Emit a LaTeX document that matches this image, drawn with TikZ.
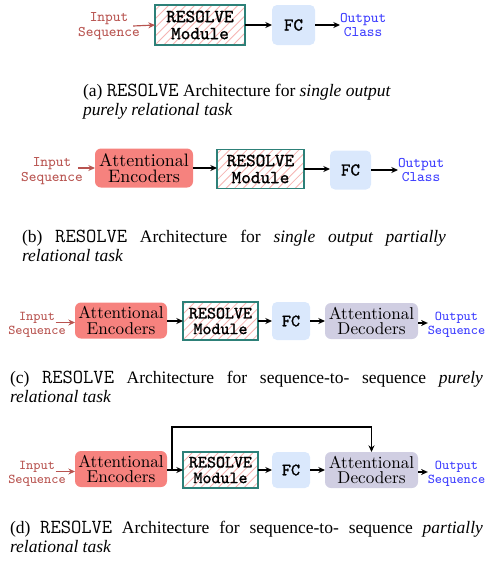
\documentclass[tikz,border=0pt]{standalone}
\usepackage{fontspec}
\newfontfamily\capfont{Liberation Serif}
\newfontfamily\capmono[Scale=1.14]{Latin Modern Mono}
\newfontfamily\boxmono[FakeBold=1.3]{Latin Modern Mono}
\usetikzlibrary{arrows.meta}

\definecolor{inred}{HTML}{B85450}
\definecolor{outblue}{HTML}{3C3CFF}
\definecolor{encfill}{HTML}{F6827E}
\definecolor{fcfill}{HTML}{DAE8FC}
\definecolor{decfill}{HTML}{D0CEE2}
\definecolor{resteal}{HTML}{2D8078}
\definecolor{reshatch}{HTML}{F6B4B2}

\tikzset{
  sz/.style 2 args={minimum width=#1*0.6pt, minimum height=#2*0.6pt},
  every node/.style={inner sep=0pt, outer sep=0pt},
  arr/.style={-{Stealth[length=4pt,width=3.6pt]}, line width=0.7pt, black},
  inarr/.style={arr, inred},
  intext/.style={align=center, text=inred, font=\fontsize{8.8}{8.6}\selectfont\ttfamily},
  outtext/.style={align=center, text=outblue, font=\fontsize{8.8}{8.6}\selectfont\ttfamily},
  hatchlines/.style={path picture={
      \foreach \i in {-14,...,14}
        \draw[reshatch, line width=0.5pt]
          ([xshift=\i*5.2pt]path picture bounding box.south west) -- ++(70pt,70pt);}},
  resbox/.style={draw=resteal, line width=0.9pt, fill=white, hatchlines,
    align=center, font=\fontsize{11}{10.2}\selectfont\boxmono},
  fcbox/.style={fill=fcfill, rounded corners=3pt, font=\fontsize{10.8}{11}\selectfont\boxmono},
  encbox/.style={fill=encfill, rounded corners=3.6pt, align=center, font=\fontsize{10.8}{10}\selectfont},
  decbox/.style={fill=decfill, rounded corners=3.6pt, align=center, font=\fontsize{10.5}{9.6}\selectfont},
  capbox/.style={anchor=base west, font=\capfont\fontsize{10.5}{11.4}\selectfont},
}

\begin{document}
\begin{tikzpicture}[x=0.6pt, y=-0.6pt]
\useasboundingbox (0,0) rectangle (487,565);

% (a) single output, purely relational
\node[intext] (inA) at (109,26) {Input\\Sequence};
\node[resbox, sz={90}{40}] (resA) at (200,25) {RESOLVE\\Module};
\node[fcbox, sz={43}{40}] (fcA) at (293.5,25) {FC};
\node[outtext, anchor=west] (outA) at (340,25) {Output\\Class};
\draw[inarr] ([xshift=-4pt]inA.east) -- (resA.west);
\draw[arr] (resA) -- (fcA);
\draw[arr] (fcA) -- (outA);
\node[capbox] (capA) at (83,96) {\parbox[t]{190pt}{(a) {\capmono RESOLVE} Architecture for \textit{single output}\\
\textit{purely relational task}}};

% (b) single output, partially relational
\node[intext] (inB) at (52,171) {Input\\Sequence};
\node[encbox, sz={98}{39}] (encB) at (144,168) {Attentional\\Encoders};
\node[resbox, sz={87}{39}] (resB) at (260.5,169) {RESOLVE\\Module};
\node[fcbox, sz={41}{39}] (fcB) at (350.5,170) {FC};
\node[outtext, anchor=west] (outB) at (398,170) {Output\\Class};
\draw[inarr] ([xshift=-3pt]inB.east |- encB.west) -- (encB.west);
\draw[arr] (encB.east) -- (encB.east -| resB.west);
\draw[arr] (resB.east) -- (resB.east -| fcB.west);
\draw[arr] (fcB) -- (fcB -| outB.west);
\node[capbox] (capB) at (22,242) {\parbox[t]{254.4pt}{(b) {\capmono RESOLVE} Architecture for \textit{single output partially}\linebreak
\textit{relational task}}};

% (c) sequence-to-sequence, purely relational
\node[intext, font=\fontsize{8.1}{8.4}\selectfont\ttfamily] (inC) at (37,325) {Input\\Sequence};
\node[encbox, sz={92}{36}, font=\fontsize{10.3}{9.4}\selectfont] (encC) at (121,320.5) {Attentional\\Encoders};
\node[resbox, sz={75}{38}, font=\fontsize{10.3}{9.4}\selectfont\boxmono] (resC) at (220.5,321) {RESOLVE\\Module};
\node[fcbox, sz={38}{38}, font=\fontsize{10.3}{10}\selectfont\boxmono] (fcC) at (291,321) {FC};
\node[decbox, sz={93}{36}, font=\fontsize{10.3}{9.4}\selectfont] (decC) at (371.5,321) {Attentional\\Decoders};
\node[outtext, font=\fontsize{8.1}{8.4}\selectfont\ttfamily] (outC) at (456.5,325) {Output\\Sequence};
\draw[inarr] ([xshift=-6pt,yshift=1.5pt]inC.east) -- ([yshift=1.5pt]inC.east -| encC.west);
\draw[arr] (encC.east |- resC.west) -- (resC.west);
\draw[arr] (resC) -- (fcC);
\draw[arr] (fcC) -- (decC);
\draw[arr] ([yshift=-1.2pt]decC.east) -- ([yshift=-1.2pt]decC.east -| outC.west);
\node[capbox] (capC) at (10,383) {\parbox[t]{283.8pt}{(c) {\capmono RESOLVE} Architecture for sequence-to- sequence \textit{purely}\linebreak
\textit{relational task}}};

% (d) sequence-to-sequence, partially relational
\node[intext, font=\fontsize{8.1}{8.4}\selectfont\ttfamily] (inD) at (37,474) {Input\\Sequence};
\node[encbox, sz={92}{36}, font=\fontsize{10.3}{9.4}\selectfont] (encD) at (121,469) {Attentional\\Encoders};
\node[resbox, sz={75}{36}, font=\fontsize{10.3}{9.4}\selectfont\boxmono] (resD) at (220.5,470) {RESOLVE\\Module};
\node[fcbox, sz={38}{36}, font=\fontsize{10.3}{10}\selectfont\boxmono] (fcD) at (291,470) {FC};
\node[decbox, sz={93}{36}, font=\fontsize{10.3}{9.4}\selectfont] (decD) at (371.5,470) {Attentional\\Decoders};
\node[outtext, font=\fontsize{8.1}{8.4}\selectfont\ttfamily] (outD) at (456.5,474) {Output\\Sequence};
\coordinate (skipUp) at (172,427);
\draw[inarr] ([xshift=-6pt,yshift=1.5pt]inD.east) -- ([yshift=1.5pt]inD.east -| encD.west);
\draw[arr] (encD.east |- resD.west) -- (resD.west);
\draw[arr] (encD.east -| skipUp) -- (skipUp) -- (skipUp -| decD.north) -- (decD.north);
\draw[arr] (resD) -- (fcD);
\draw[arr] (fcD) -- (decD);
\draw[arr] ([yshift=-1.2pt]decD.east) -- ([yshift=-1.2pt]decD.east -| outD.west);
\node[capbox] (capD) at (10,533) {\parbox[t]{283.8pt}{(d) {\capmono RESOLVE} Architecture for sequence-to- sequence \textit{partially}\linebreak
\textit{relational task}}};
\end{tikzpicture}
\end{document}
